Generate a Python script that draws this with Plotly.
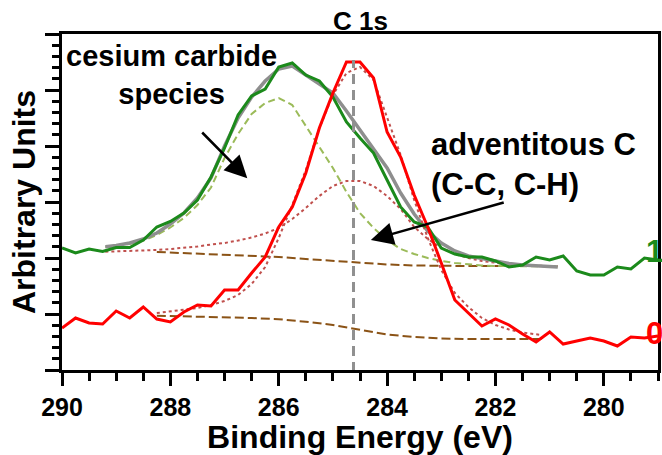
import plotly.graph_objects as go

# ---------------- data ----------------
energy = [290.0, 289.75, 289.5, 289.25, 289.0, 288.75, 288.5, 288.25, 288.0, 287.75,
          287.5, 287.25, 287.0, 286.75, 286.5, 286.25, 286.0, 285.75, 285.5, 285.25,
          285.0, 284.75, 284.5, 284.25, 284.0, 283.75, 283.5, 283.25, 283.0, 282.75,
          282.5, 282.25, 282.0, 281.75, 281.5, 281.25, 281.0, 280.75, 280.5, 280.25,
          280.0, 279.75, 279.5, 279.25, 279.0]

sample1 = [122, 117, 121, 118.5, 122.5, 122.5, 130, 143, 148.5, 157,
           170, 193, 222, 255, 274, 281, 303, 307, 295, 289,
           273, 248, 232, 217, 190, 163, 148, 143, 122, 116,
           113, 113, 109, 103, 105, 113, 110, 114, 99, 95,
           95, 103, 101, 112, 110]

sample0 = [42, 52, 47, 46, 59, 52, 63, 51, 48, 58,
           65, 64, 80, 80, 97, 113, 143, 163, 197, 242,
           277, 308, 308, 292, 238, 213, 175, 143, 107, 70,
           57, 44, 51, 45, 36, 28, 38, 26, 29, 32,
           29, 24, 33, 32, 34]

# fit of sample 1
fit1_energy = [289.2, 289.0, 288.75, 288.5, 288.25, 288.0, 287.75, 287.5, 287.25, 287.0,
               286.75, 286.5, 286.25, 286.0, 285.75, 285.5, 285.25, 285.0, 284.75, 284.5,
               284.25, 284.0, 283.75, 283.5, 283.25, 283.0, 282.75, 282.5, 282.25, 282.0,
               281.75, 281.5, 281.25, 281.0, 280.85]
fit1_sum = [123.3, 124.5, 127, 131, 137, 146, 157, 172, 192, 224,
            252, 273, 289, 301, 304, 295, 287, 277, 259, 240,
            222, 202, 177, 156, 139, 127, 119, 114, 111.5, 109,
            106.5, 105, 104, 103.5, 103]
fit1_carbide = [123, 124, 126, 129.5, 135, 142.5, 152, 165, 182.5, 212,
                236, 256, 267, 272, 265, 244, 223, 202, 178, 157,
                142, 130, 121, 116, 112, 109, 107, 105.5, 104.5, 104,
                104, 104, 103.5, 103.5, 103.5]
fit1_adventitious = [118.3, 118.5, 119, 119.5, 120, 121, 122, 123.5, 125.5, 127,
                     129.5, 132.5, 136.5, 142, 151, 162, 174, 184, 189, 189,
                     184, 174, 161, 143, 131, 122, 116, 112, 109, 107,
                     105.5, 104.5, 104, 104, 104]
bg1_energy = [288.25, 288.0, 287.5, 287.0, 286.5, 286.0, 285.5, 285.0, 284.5,
              284.0, 283.5, 283.0, 282.5, 282.0, 281.5, 281.0, 280.85]
bg1 = [118, 117.5, 116.5, 115.5, 114, 113, 111, 109, 107.3,
       105.5, 104.5, 104, 104, 104, 104, 104, 104]

# fit of sample 0
fit0_energy = [288.25, 288.0, 287.75, 287.5, 287.25, 287.0, 286.75, 286.5, 286.25, 286.0,
               285.75, 285.5, 285.25, 285.0, 284.75, 284.5, 284.25, 284.0, 283.75, 283.5,
               283.25, 283.0, 282.75, 282.5, 282.25, 282.0, 281.75, 281.5, 281.25, 281.15]
fit0_sum = [57, 58.5, 60, 62, 65, 69, 75, 86, 103, 132,
            165, 200, 242, 275, 297, 303, 290, 252, 215, 170,
            132, 100, 77, 63, 52, 45, 40.5, 37.5, 35.5, 35]
bg0_energy = [288.25, 288.0, 287.5, 287.0, 286.5, 286.0, 285.5, 285.0, 284.5,
              284.0, 283.5, 283.0, 282.5, 282.0, 281.5, 281.15]
bg0 = [54.3, 54, 53.8, 53.3, 52, 50.8, 48.3, 45, 40.5,
       35.5, 33, 31.5, 31, 31, 31, 31]

peak_position = 284.62

x_ticks = [290, 288, 286, 284, 282, 280]

# ---------------- styles ----------------
GREEN = "#1b8a1b"
RED = "#ff0000"
GRAY = "#8e8e8e"
YG = "#9bbb59"
DOTRED = "#c0504d"
BROWN = "#8b5316"
FONT = "Liberation Sans, Arial, sans-serif"

fig = go.Figure()

def line(x, y, color, width, dash="solid"):
    fig.add_trace(go.Scatter(x=x, y=y, mode="lines", showlegend=False, hoverinfo="skip",
                             line=dict(color=color, width=width, dash=dash)))

line(bg1_energy, bg1, BROWN, 2, "9px,4px")
line(bg0_energy, bg0, BROWN, 2, "9px,4px")
line(fit1_energy, fit1_carbide, YG, 2, "7px,4px")
line(fit1_energy, fit1_adventitious, DOTRED, 2, "dot")
line(fit1_energy, fit1_sum, GRAY, 3.5)
line(fit0_energy, fit0_sum, DOTRED, 2, "dot")
line(energy, sample1, GREEN, 3)
line(energy, sample0, RED, 3)

fig.add_shape(type="line", x0=peak_position, x1=peak_position, y0=-2, y1=310,
              xref="x", yref="y", layer="above",
              line=dict(color="#909090", width=3, dash="10px,6px"))

annos = [
    dict(x=287.98, y=295, text="cesium carbide<br>species", showarrow=False,
         xanchor="center", yanchor="middle", font=dict(size=29)),
    dict(x=283.23, y=206, text="adventitous C<br>(C-C, C-H)", showarrow=False,
         xanchor="left", yanchor="middle", align="left", font=dict(size=31)),
    dict(x=279.25, y=119, text="1", showarrow=False, xanchor="left", yanchor="middle",
         font=dict(size=31, color=GREEN)),
    dict(x=279.25, y=36.5, text="0", showarrow=False, xanchor="left", yanchor="middle",
         font=dict(size=31, color=RED)),
    dict(x=286.58, y=191.7, ax=287.44, ay=239, axref="x", ayref="y", text="",
         showarrow=True, arrowhead=2, arrowsize=1.8, arrowwidth=2.5, arrowcolor="black"),
    dict(x=284.30, y=130, ax=281.82, ay=168, axref="x", ayref="y", text="",
         showarrow=True, arrowhead=2, arrowsize=1.8, arrowwidth=2.5, arrowcolor="black"),
    dict(x=0.5, y=1.04, xref="paper", yref="paper", text="C 1s", showarrow=False,
         xanchor="center", yanchor="middle", font=dict(size=26)),
]
for a in annos:
    a.setdefault("xref", "x")
    a.setdefault("yref", "y")
    f = a.get("font", {})
    f.setdefault("family", FONT)
    f.setdefault("color", "black")
    f["weight"] = "bold"
    a["font"] = f
    fig.add_annotation(**a)

fig.update_layout(
    width=662, height=455,
    margin=dict(l=62, r=1, t=34, b=85),
    plot_bgcolor="white", paper_bgcolor="white",
    font=dict(family=FONT, color="black", weight="bold"),
    showlegend=False,
)
fig.update_xaxes(
    range=[290, 279], tickvals=x_ticks, ticktext=[str(v) for v in x_ticks],
    showgrid=False, zeroline=False,
    showline=True, linecolor="black", linewidth=3, mirror=True,
    ticks="outside", ticklen=13, tickwidth=2.5, tickcolor="black",
    minor=dict(dtick=0.5, ticks="outside", ticklen=8, tickwidth=2.5, tickcolor="black", showgrid=False),
    tickfont=dict(size=25, family=FONT, weight="bold"),
    title=dict(text="Binding Energy (eV)", font=dict(size=32, family=FONT, weight="bold"), standoff=8),
)
fig.update_yaxes(
    range=[0, 336], dtick=56, tick0=0, showticklabels=False,
    showgrid=False, zeroline=False,
    showline=True, linecolor="black", linewidth=3, mirror=True,
    ticks="outside", ticklen=14, tickwidth=2.5, tickcolor="black",
    minor=dict(dtick=11.2, ticks="outside", ticklen=7, tickwidth=2.5, tickcolor="black", showgrid=False),
    title=dict(text="Arbitrary Units", font=dict(size=32, family=FONT, weight="bold"), standoff=0),
)

fig.write_html("out.html")
